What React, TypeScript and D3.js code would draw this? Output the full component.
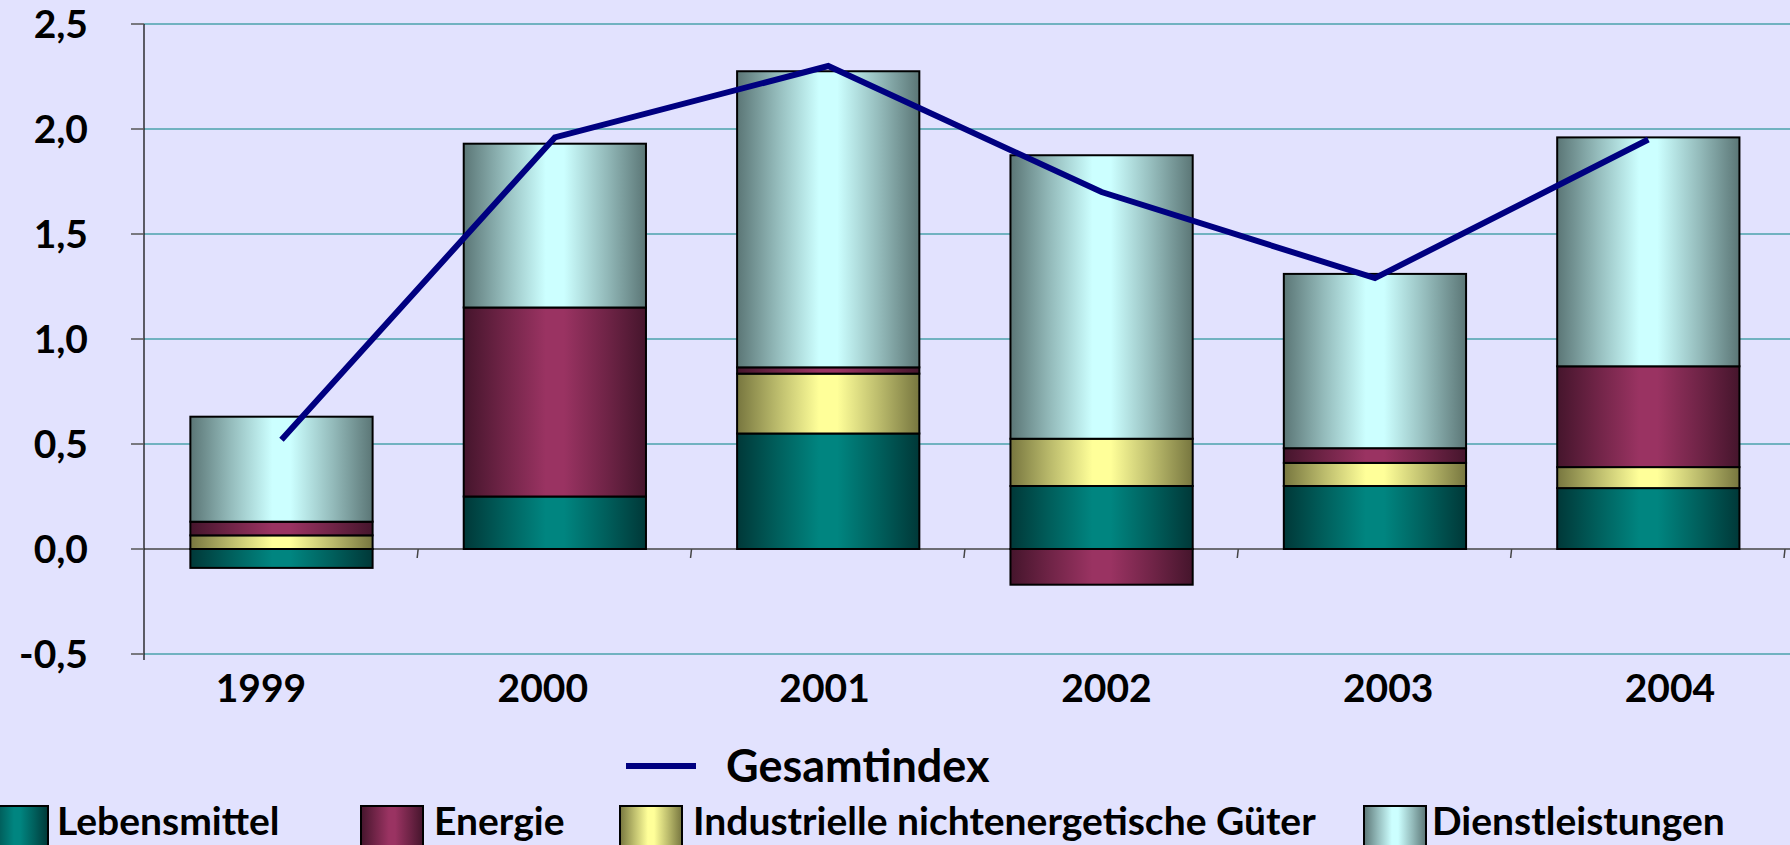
import React from "react";
import * as d3 from "d3";

const years = ["1999", "2000", "2001", "2002", "2003", "2004"];
const lebensmittel = [-0.09, 0.25, 0.55, 0.3, 0.3, 0.29];
const energie = [0.065, 0.9, 0.03, -0.17, 0.07, 0.48];
const industrielle = [0.065, 0.0, 0.285, 0.225, 0.11, 0.1];
const dienstleistungen = [0.5, 0.78, 1.41, 1.35, 0.83, 1.09];
const gesamtindex = [0.52, 1.96, 2.3, 1.7, 1.29, 1.95];
const yTicks = [-0.5, 0, 0.5, 1.0, 1.5, 2.0, 2.5];

const seriesInfo = [
  { key: "L", name: "Lebensmittel", values: lebensmittel, dark: "#003838", light: "#008580" },
  { key: "E", name: "Energie", values: energie, dark: "#45152c", light: "#9a3362" },
  { key: "I", name: "Industrielle nichtenergetische Güter", values: industrielle, dark: "#77763f", light: "#ffff99" },
  { key: "D", name: "Dienstleistungen", values: dienstleistungen, dark: "#5b7676", light: "#ccffff" },
];
const stackOrder = ["L", "I", "E", "D"];

const W = 1790;
const H = 845;
const FONT = "Lato, 'Open Sans', sans-serif";

export default function App() {
  const x = d3.scaleBand<string>().domain(years).range([144.8, 1785]).paddingInner(1 / 3).paddingOuter(1 / 6);
  const xLabel = d3.scalePoint<string>().domain(years).range([261, 1670]);
  const y = d3.scaleLinear().domain([-0.5, 2.5]).range([654, 24]);
  const locale = d3.formatLocale({ decimal: ",", thousands: ".", grouping: [3], currency: ["", "€"], minus: "-" });
  const fmt = locale.format(".1f");

  const rows = years.map((yr, i) => {
    const r: any = { year: yr };
    seriesInfo.forEach((s) => (r[s.key] = s.values[i]));
    return r;
  });
  const stacked = d3.stack<any>().keys(stackOrder).offset(d3.stackOffsetDiverging)(rows);

  const line = d3
    .line<number>()
    .x((_, i) => (x(years[i]) as number) + x.bandwidth() / 2)
    .y((d) => y(d));

  const step = x.step();
  const x0 = x.range()[0];
  const catTicks = d3.range(1, years.length + 1).map((k) => x0 + step * k);

  const legendBottom = [
    { s: seriesInfo[0], sx: -14, tx: 57 },
    { s: seriesInfo[1], sx: 361, tx: 434 },
    { s: seriesInfo[2], sx: 620, tx: 693 },
    { s: seriesInfo[3], sx: 1364, tx: 1432 },
  ];

  return (
    <svg width={W} height={H} style={{ position: "absolute", left: 0, top: 0, display: "block" }} fontFamily={FONT}>
      <defs>
        {seriesInfo.map((s) => (
          <linearGradient key={s.key} id={"g" + s.key} x1="0" x2="1" y1="0" y2="0">
            <stop offset="0" stopColor={s.dark} />
            <stop offset="0.22" stopColor={d3.interpolateRgb(s.dark, s.light)(0.5)} />
            <stop offset="0.45" stopColor={s.light} />
            <stop offset="0.55" stopColor={s.light} />
            <stop offset="0.78" stopColor={d3.interpolateRgb(s.dark, s.light)(0.5)} />
            <stop offset="1" stopColor={s.dark} />
          </linearGradient>
        ))}
      </defs>
      <rect x={0} y={0} width={W} height={H} fill="#e2e2fe" />

      {yTicks
        .filter((t) => t !== 0)
        .map((t) => (
          <line key={t} x1={144} x2={W} y1={y(t)} y2={y(t)} stroke="#4ba2ab" strokeWidth={1.6} />
        ))}
      <line x1={144} x2={W} y1={y(0)} y2={y(0)} stroke="#444" strokeWidth={1.5} />
      {catTicks.map((t, i) => (
        <line key={i} x1={t} x2={t - 1} y1={y(0)} y2={y(0) + 9} stroke="#444" strokeWidth={1.5} />
      ))}
      <line x1={144} x2={144} y1={y(2.5)} y2={y(-0.5) + 6} stroke="#111" strokeWidth={1.3} />
      {yTicks.map((t) => (
        <g key={t}>
          <line x1={131} x2={144} y1={y(t)} y2={y(t)} stroke="#555" strokeWidth={1.5} />
          <text x={88} y={y(t)} dy="0.36em" textAnchor="end" fontSize={39} fontWeight={700} fill="#000">
            {fmt(t)}
          </text>
        </g>
      ))}

      {stacked.map((layer) => (
        <g key={layer.key}>
          {layer.map((d, i) => {
            const top = y(Math.max(d[0], d[1]));
            const bot = y(Math.min(d[0], d[1]));
            if (Math.abs(bot - top) < 0.5) return null;
            return (
              <rect
                key={i}
                x={x(years[i])}
                y={top}
                width={x.bandwidth()}
                height={bot - top}
                fill={`url(#g${layer.key})`}
                stroke="#000"
                strokeWidth={2}
              />
            );
          })}
        </g>
      ))}

      <path d={line(gesamtindex) || ""} fill="none" stroke="#000080" strokeWidth={6} strokeLinejoin="miter" strokeLinecap="butt" />

      {years.map((yr) => (
        <text key={yr} x={xLabel(yr)} y={702} textAnchor="middle" fontSize={39} fontWeight={700} fill="#000">
          {yr}
        </text>
      ))}

      <line x1={626} x2={696} y1={766} y2={766} stroke="#000080" strokeWidth={6} />
      <text x={726} y={766} dy="0.36em" fontSize={45} fontWeight={700} fill="#000">
        Gesamtindex
      </text>
      {legendBottom.map(({ s, sx, tx }) => (
        <g key={s.key}>
          <rect x={sx} y={806} width={62} height={48} fill={`url(#g${s.key})`} stroke="#000" strokeWidth={2} />
          <text x={tx} y={835} fontSize={39} fontWeight={700} fill="#000">
            {s.name}
          </text>
        </g>
      ))}
    </svg>
  );
}
